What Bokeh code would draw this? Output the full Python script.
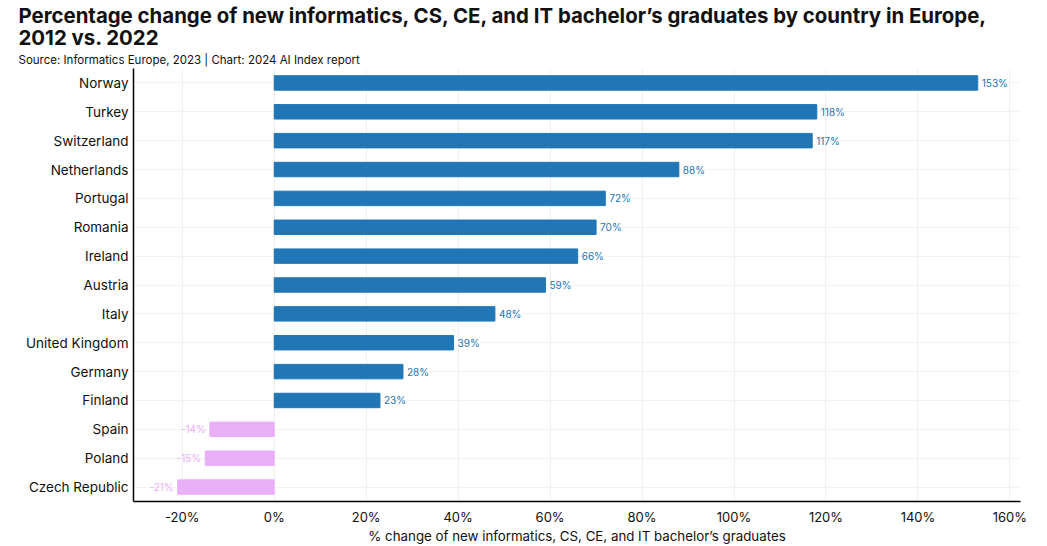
from bokeh.plotting import figure
from bokeh.models import FactorRange, Range1d, FixedTicker, PrintfTickFormatter, Title, ColumnDataSource
from bokeh.core.properties import value
from bokeh.embed import file_html
from bokeh.resources import INLINE

countries = ["Norway", "Turkey", "Switzerland", "Netherlands", "Portugal", "Romania", "Ireland",
             "Austria", "Italy", "United Kingdom", "Germany", "Finland", "Spain", "Poland", "Czech Republic"]
values = [153, 118, 117, 88, 72, 70, 66, 59, 48, 39, 28, 23, -14, -15, -21]
tick_values = [-20, 0, 20, 40, 60, 80, 100, 120, 140, 160]

BLUE = "#2176b5"
PINK = "#e9b0f9"
FONT = "Inter"

colors = [BLUE if v >= 0 else PINK for v in values]
labels = [f"{v}%" for v in values]

p = figure(width=1039, height=546, output_backend="svg", toolbar_location=None,
           y_range=FactorRange(factors=list(reversed(countries))),
           x_range=Range1d(-30.6, 162.3),
           min_border_left=133, min_border_right=19, min_border_bottom=0, min_border_top=67)
p.title = None
p.outline_line_color = None

src = ColumnDataSource(dict(country=countries, value=values, color=colors, label=labels))
p.hbar(y="country", left=0, right="value", height=0.5, color="color", source=src)

pos = ColumnDataSource(dict(country=[c for c, v in zip(countries, values) if v >= 0],
                            value=[v for v in values if v >= 0],
                            label=[l for l, v in zip(labels, values) if v >= 0]))
neg = ColumnDataSource(dict(country=[c for c, v in zip(countries, values) if v < 0],
                            value=[v for v in values if v < 0],
                            label=[l for l, v in zip(labels, values) if v < 0]))
p.text(x="value", y="country", text="label", source=pos, x_offset=4, text_align="left",
       text_baseline="middle", text_font_size="10px", text_color=BLUE, text_font=value(FONT))
p.text(x="value", y="country", text="label", source=neg, x_offset=-4, text_align="right",
       text_baseline="middle", text_font_size="10px", text_color=PINK, text_font=value(FONT))

p.xaxis.ticker = FixedTicker(ticks=tick_values)
p.xaxis.formatter = PrintfTickFormatter(format="%d%%")
p.xaxis.axis_label = "% change of new informatics, CS, CE, and IT bachelor’s graduates"
p.xaxis.axis_label_text_font_style = "normal"
p.xaxis.axis_label_text_font_size = "13.3px"
p.xaxis.axis_label_text_font = FONT
p.xaxis.axis_label_text_color = "#111111"
p.xaxis.axis_label_standoff = 0
for ax in (p.xaxis, p.yaxis):
    ax.major_tick_line_color = None
    ax.minor_tick_line_color = None
    ax.major_tick_out = 0
    ax.major_tick_in = 0
    ax.minor_tick_out = 0
    ax.axis_line_color = "#000000"
    ax.axis_line_width = 1.5
    ax.major_label_text_font = FONT
    ax.major_label_text_color = "#111111"
p.xaxis.major_label_text_font_size = "13px"
p.yaxis.major_label_text_font_size = "13.5px"
p.xaxis.major_label_standoff = 7
p.yaxis.major_label_standoff = 5

p.xgrid.grid_line_color = "#efefef"
p.ygrid.grid_line_color = "#f2f2f2"

p.add_layout(Title(text="Source: Informatics Europe, 2023 | Chart: 2024 AI Index report",
                   text_font_size="11.5px", text_font_style="normal", text_font=FONT,
                   text_color="#111111", align="left", offset=-115, standoff=3), "above")
p.add_layout(Title(text="Percentage change of new informatics, CS, CE, and IT bachelor’s graduates by country in Europe,\n2012 vs. 2022",
                   text_font_size="20.4px", text_font_style="bold", text_font=FONT, text_line_height=0.87,
                   text_color="#111111", align="left", offset=-115, standoff=0), "above")

open("out.html", "w").write(file_html(p, INLINE))
